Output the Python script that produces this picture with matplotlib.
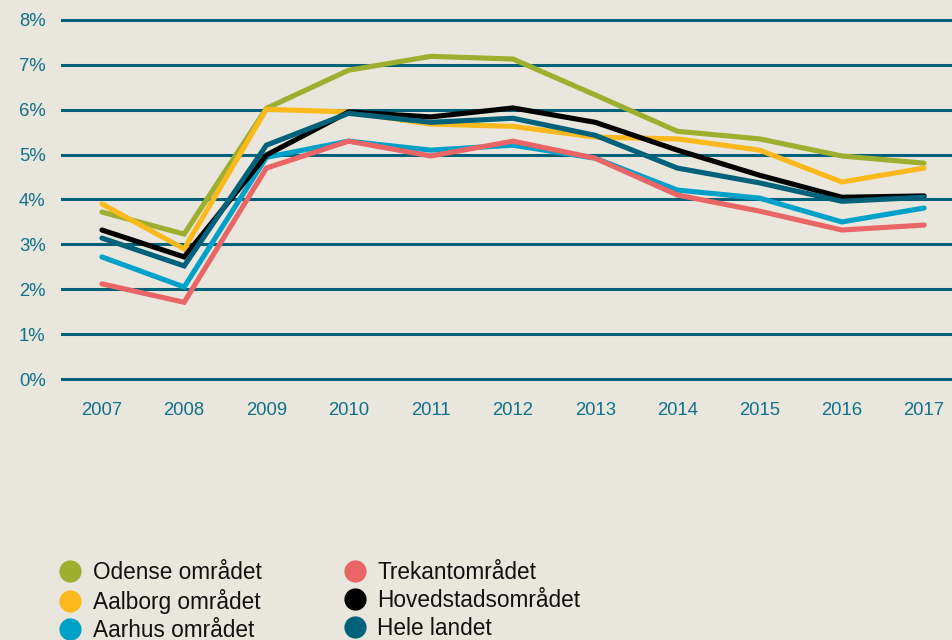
import matplotlib
matplotlib.use("Agg")
import matplotlib.pyplot as plt
from matplotlib.lines import Line2D

plt.rcParams['font.family'] = ['Liberation Sans', 'DejaVu Sans']

years = [2007, 2008, 2009, 2010, 2011, 2012, 2013, 2014, 2015, 2016, 2017]

odense = [3.72, 3.23, 6.03, 6.88, 7.19, 7.13, 6.33, 5.52, 5.35, 4.97, 4.81]
aalborg = [3.90, 2.90, 6.01, 5.95, 5.68, 5.63, 5.39, 5.35, 5.10, 4.39, 4.70]
aarhus = [2.72, 2.05, 4.94, 5.30, 5.10, 5.21, 4.92, 4.21, 4.03, 3.50, 3.81]
trekant = [2.12, 1.71, 4.70, 5.30, 4.97, 5.30, 4.92, 4.10, 3.74, 3.32, 3.43]
hovedstad = [3.32, 2.72, 4.99, 5.95, 5.84, 6.04, 5.72, 5.10, 4.54, 4.05, 4.08]
hele_landet = [3.14, 2.52, 5.21, 5.92, 5.72, 5.81, 5.43, 4.70, 4.37, 3.96, 4.05]

series = [
    ("Odense området", odense, "#9caf2e"),
    ("Aalborg området", aalborg, "#fbb91e"),
    ("Aarhus området", aarhus, "#00a1c8"),
    ("Trekantområdet", trekant, "#e96566"),
    ("Hovedstadsområdet", hovedstad, "#000000"),
    ("Hele landet", hele_landet, "#00627a"),
]

bg = "#e9e7dd"
teal = "#00627a"

fig = plt.figure(figsize=(9.53, 6.4), dpi=100, facecolor=bg)
# axes: left edge at x=61px, 0% at y=379px, 8% at y=20px
ax = fig.add_axes([61/953, 1 - 383.5/640, 1 - 61/953, 368/640])
ax.set_facecolor(bg)

for name, vals, col in series:
    ax.plot(years, vals, color=col, lw=3.7, solid_capstyle='round',
            solid_joinstyle='miter', zorder=3)

ax.set_xlim(2006.502, 2017.352)
ax.set_ylim(-0.1, 8.1)
ax.set_yticks(range(0, 9))
ax.set_yticklabels([f"{i}%" for i in range(0, 9)])
ax.set_xticks(years)
ax.set_xticklabels([str(y) for y in years])
ax.grid(axis='y', color=teal, lw=2.2, zorder=1)
ax.grid(axis='x', visible=False)
for s in ax.spines.values():
    s.set_visible(False)
ax.tick_params(axis='both', length=0, labelsize=13.3, labelcolor="#11708a")
ax.tick_params(axis='y', pad=11)
ax.tick_params(axis='x', pad=13)

handles = [Line2D([], [], marker='o', linestyle='', markersize=15,
                  markerfacecolor=col, markeredgecolor=col)
           for _, _, col in series]
labels = [name for name, _, _ in series]
fig.legend(handles, labels, loc='upper left', bbox_to_anchor=(59/953, 1 - 561/640),
           ncol=2, frameon=False, fontsize=16.3, handlelength=1.0,
           handletextpad=0.5, labelspacing=0.23, columnspacing=3.6,
           borderpad=0, borderaxespad=0, labelcolor="#111111")

fig.savefig("out.png", dpi=100, facecolor=bg)
